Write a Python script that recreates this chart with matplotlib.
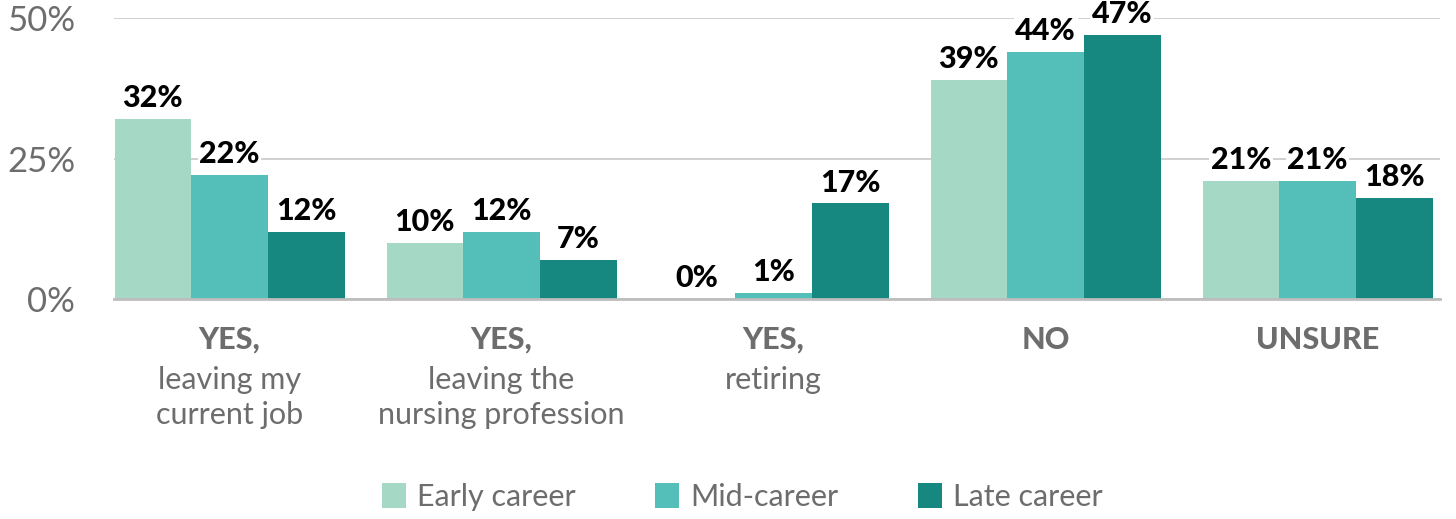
import numpy as np
import matplotlib
matplotlib.use("Agg")
import matplotlib.pyplot as plt
import matplotlib.transforms as mtransforms
from matplotlib.patches import Patch

# answers by career stage, in percent
categories_bold = ["YES,", "YES,", "YES,", "NO", "UNSURE"]
categories_sub = ["leaving my\ncurrent job", "leaving the\nnursing profession", "retiring", "", ""]
series_names = ["Early career", "Mid-career", "Late career"]
early = [32, 10, 0, 39, 21]
mid = [22, 12, 1, 44, 21]
late = [12, 7, 17, 47, 18]
y_ticks = [0, 25, 50]
y_tick_labels = ["0%", "25%", "50%"]

colors = ["#A5D8C5", "#54BEB8", "#178880"]
gray = "#6d6d6d"

plt.rcParams["font.family"] = ["Lato", "DejaVu Sans"]

fig = plt.figure(figsize=(14.56, 5.19), dpi=100)
ax = fig.add_axes([114 / 1456, 1 - 299 / 519, (1440 - 114) / 1456, (299 - 18) / 519])

x = np.arange(len(categories_bold))
width = 0.282
for i, (vals, name) in enumerate(zip([early, mid, late], series_names)):
    pos = x + (i - 1) * width
    ax.bar(pos, vals, width=width, color=colors[i], label=name, zorder=2)
    for px, v in zip(pos, vals):
        ax.annotate(f"{v}%", (px, v), xytext=(0, 5), textcoords="offset points",
                    ha="center", va="bottom", fontsize=22, fontweight="black",
                    color="black", clip_on=False, zorder=4,
                    bbox=dict(boxstyle="square,pad=0.05", fc="white", ec="none"))

ax.set_xlim(-0.425, 4.45)
ax.set_ylim(0, 50)
ax.set_yticks(y_ticks)
ax.set_yticklabels(y_tick_labels, fontsize=25, color=gray)
ax.tick_params(axis="y", length=0, pad=28)
ax.set_xticks([])
ax.grid(axis="y", color="#c8c8c8", linewidth=1.2, zorder=0)
ax.set_axisbelow(True)
for side in ["top", "right", "left"]:
    ax.spines[side].set_visible(False)
ax.spines["bottom"].set_color("#bdbdbd")
ax.spines["bottom"].set_linewidth(2)
ax.spines["bottom"].set_zorder(3)

# category labels under the groups
trans = mtransforms.blended_transform_factory(ax.transData, fig.transFigure)
for xi, b, s in zip(x, categories_bold, categories_sub):
    ax.text(xi, 1 - 340 / 519, b, transform=trans, ha="center", va="center",
            fontsize=22, fontweight="black", color=gray)
    if s:
        ax.text(xi, 1 - 366 / 519, s, transform=trans, ha="center", va="top",
                fontsize=22, color=gray, linespacing=1.3)

handles = [Patch(facecolor=c, edgecolor="none") for c in colors]
fig.legend(handles, series_names, loc="center", bbox_to_anchor=(742 / 1456, 1 - 497 / 519),
           ncol=3, frameon=False, labelcolor=gray,
           handlelength=0.8, handleheight=0.85, handletextpad=0.35, columnspacing=2.6,
           prop={"size": 22})

fig.savefig("out.png", dpi=100)
